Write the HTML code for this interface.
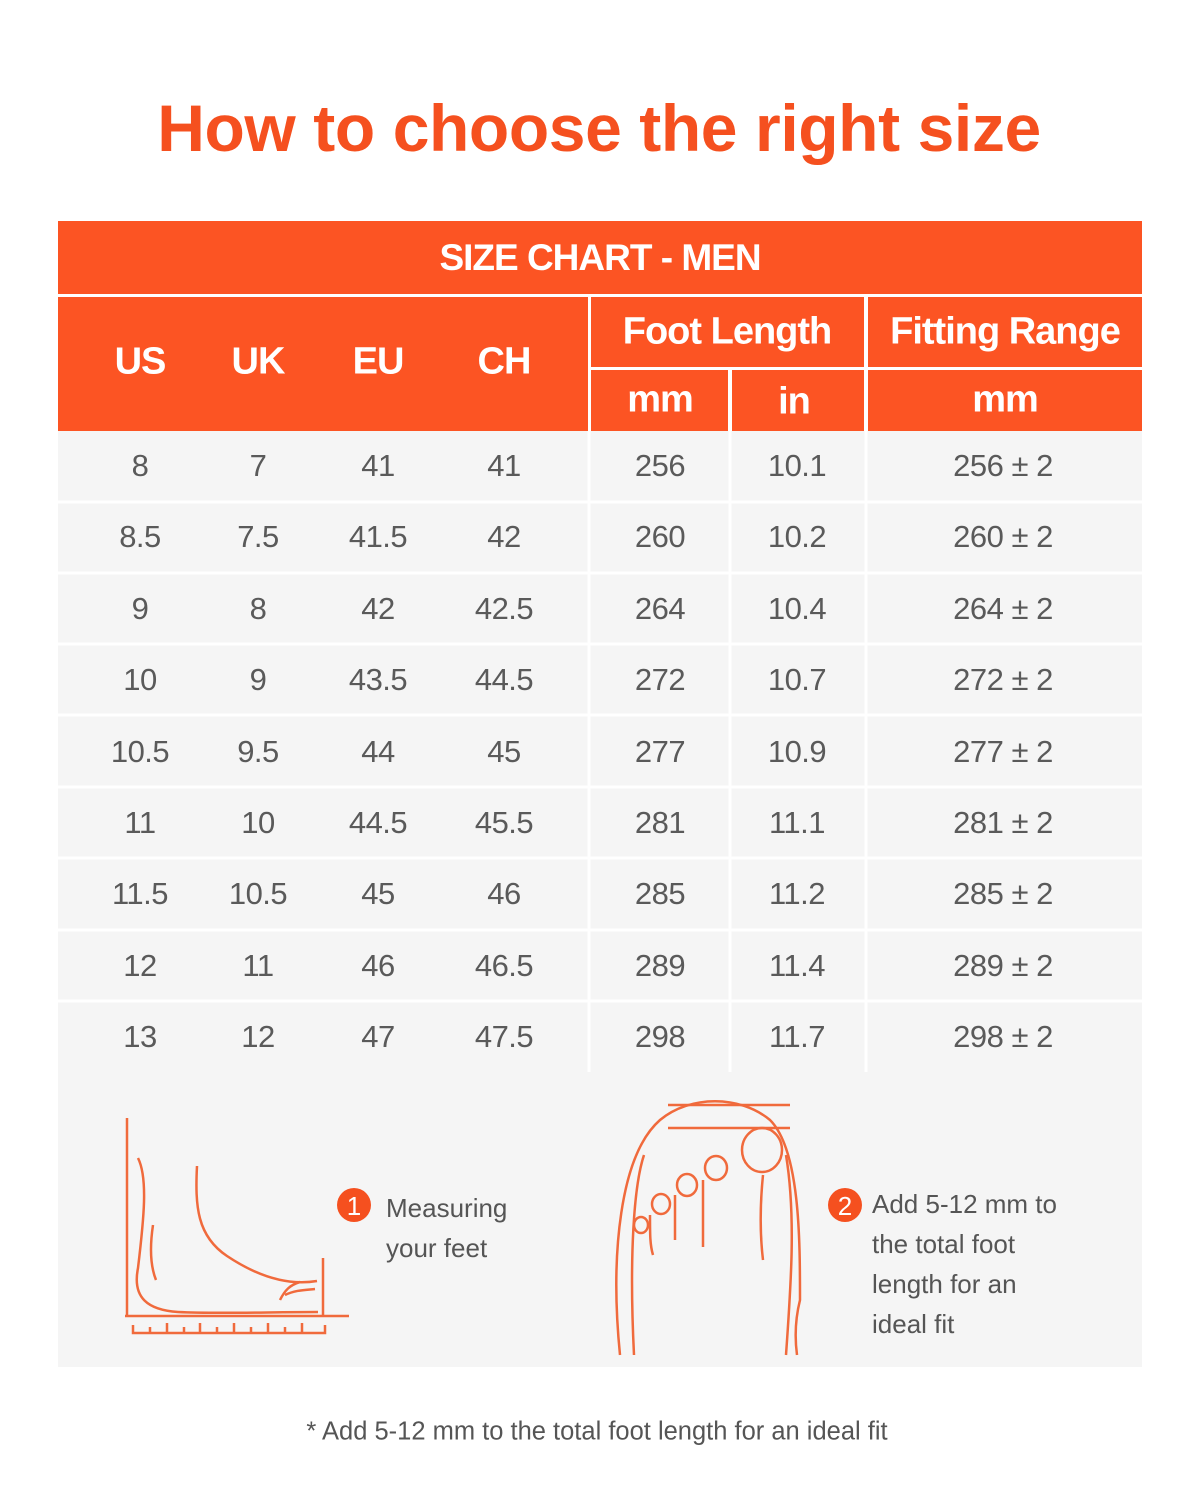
<!DOCTYPE html>
<html><head><meta charset="utf-8"><style>
body{margin:0;width:1200px;height:1500px;background:#fff;position:relative;font-family:"Liberation Sans",sans-serif;overflow:hidden}
.a{position:absolute}
.t{position:absolute;text-align:center;transform:translate(-50%,-50%);white-space:nowrap}
.h{color:#fff;font-weight:bold;font-size:38px;letter-spacing:-1px}
.d{color:#5a5a5a;font-size:31px;letter-spacing:-0.5px}
.o{background:#fc5423}
</style></head><body>
<div class="t" style="left:599px;top:128px;font-size:66px;font-weight:bold;color:#f5501f;letter-spacing:-0.4px">How to choose the right size</div>
<div class="a o" style="left:58px;top:221px;width:1084px;height:73px"></div>
<div class="t h" style="left:600px;top:258px;font-size:37px">SIZE CHART - MEN</div>
<div class="a o" style="left:58px;top:297px;width:530px;height:134px"></div>
<div class="a o" style="left:591px;top:297px;width:273px;height:70px"></div>
<div class="a o" style="left:868px;top:297px;width:274px;height:70px"></div>
<div class="a o" style="left:591px;top:370px;width:137px;height:61px"></div>
<div class="a o" style="left:732px;top:370px;width:132px;height:61px"></div>
<div class="a o" style="left:868px;top:370px;width:274px;height:61px"></div>
<div class="t h" style="left:140px;top:362px">US</div>
<div class="t h" style="left:258px;top:362px">UK</div>
<div class="t h" style="left:378px;top:362px">EU</div>
<div class="t h" style="left:504px;top:362px">CH</div>
<div class="t h" style="left:727px;top:332px">Foot Length</div>
<div class="t h" style="left:1005px;top:332px">Fitting Range</div>
<div class="t h" style="left:660px;top:400px">mm</div>
<div class="t h" style="left:794px;top:402px">in</div>
<div class="t h" style="left:1005px;top:400px">mm</div>
<div class="a" style="left:58px;top:431px;width:1084px;height:936px;background:#f5f5f5"></div>
<div id="rows"></div>
<svg class="a" style="left:0;top:0" width="1200" height="1500">
<g fill="none" stroke="#fff" stroke-width="3">
<line x1="589" y1="431" x2="589" y2="1072"/><line x1="730" y1="431" x2="730" y2="1072"/><line x1="866" y1="431" x2="866" y2="1072"/>
<line x1="58" y1="502" x2="1142" y2="502"/><line x1="58" y1="573" x2="1142" y2="573"/><line x1="58" y1="644" x2="1142" y2="644"/><line x1="58" y1="715" x2="1142" y2="715"/><line x1="58" y1="787" x2="1142" y2="787"/><line x1="58" y1="858" x2="1142" y2="858"/><line x1="58" y1="930" x2="1142" y2="930"/><line x1="58" y1="1001" x2="1142" y2="1001"/>
</g>
<g fill="none" stroke="#f06a3c" stroke-width="2.5">
<line x1="127" y1="1118" x2="127" y2="1316"/><line x1="125" y1="1316" x2="349" y2="1316"/>
<path d="M133 1325v8h192v-8M150 1327v6M167 1323v10M184 1327v6M200 1323v10M217 1327v6M234 1323v10M251 1327v6M268 1323v10M285 1327v6M302 1323v10"/>
<line x1="323" y1="1258" x2="323" y2="1316"/>
<path d="M138 1158c10 20 6 60 0 110c-6 30 10 42 40 44c40 2 90 0 140 0"/>
<path d="M197 1166c-2 40 0 70 30 90c30 20 60 30 90 25"/>
<path d="M153 1225c-3 20 -3 40 3 55"/>
<path d="M280 1300c5-10 10-15 20-18M285 1295c10-5 20-5 30-6"/>
<line x1="668" y1="1105" x2="790" y2="1105"/><line x1="668" y1="1128" x2="790" y2="1128"/>
<path d="M620 1355c-10-100 0-200 40-235c30-25 80-25 110 0c30 30 30 120 30 180c-5 20-5 40-3 55"/>
<path d="M634 1355c-5-100 0-170 10-200"/>
<path d="M786 1355c5-70 10-140 0-200"/>
<ellipse cx="762" cy="1150" rx="20" ry="22"/><ellipse cx="716" cy="1168" rx="11" ry="12"/><ellipse cx="687" cy="1185" rx="10" ry="11"/><ellipse cx="661" cy="1204" rx="9" ry="10"/><ellipse cx="641" cy="1225" rx="7" ry="8"/>
<path d="M763 1175c-3 30-3 60 0 85M703 1180c0 30 0 50 0 67M675 1195c0 20 0 35 0 45M650 1215c0 20 0 30 3 40"/>
</g>
<circle cx="354" cy="1205" r="17" fill="#f5501f"/><circle cx="845" cy="1205" r="17" fill="#f5501f"/>
<text x="354" y="1215" fill="#fff" font-size="26" text-anchor="middle" font-family="Liberation Sans">1</text>
<text x="845" y="1215" fill="#fff" font-size="26" text-anchor="middle" font-family="Liberation Sans">2</text>
</svg>
<div class="a" style="left:386px;top:1188px;font-size:26px;color:#555;line-height:40px">Measuring<br>your feet</div>
<div class="a" style="left:872px;top:1184px;font-size:26px;color:#555;line-height:40px">Add 5-12 mm to<br>the total foot<br>length for an<br>ideal fit</div>
<div class="t" style="left:597px;top:1432px;font-size:25.5px;color:#555">* Add 5-12 mm to the total foot length for an ideal fit</div>
<script>
var d=[["8","7","41","41","256","10.1"],["8.5","7.5","41.5","42","260","10.2"],["9","8","42","42.5","264","10.4"],["10","9","43.5","44.5","272","10.7"],["10.5","9.5","44","45","277","10.9"],["11","10","44.5","45.5","281","11.1"],["11.5","10.5","45","46","285","11.2"],["12","11","46","46.5","289","11.4"],["13","12","47","47.5","298","11.7"]];
var xs=[140,258,378,504,660,797],ys=[466,537,609,680,752,823,894,966,1037],h="";
d.forEach(function(r,i){r.forEach(function(v,j){h+='<div class="t d" style="left:'+xs[j]+'px;top:'+ys[i]+'px">'+v+'</div>'});h+='<div class="t d" style="left:1003px;top:'+ys[i]+'px">'+r[4]+' ± 2</div>'});
document.getElementById('rows').innerHTML=h;
</script>
</body></html>
